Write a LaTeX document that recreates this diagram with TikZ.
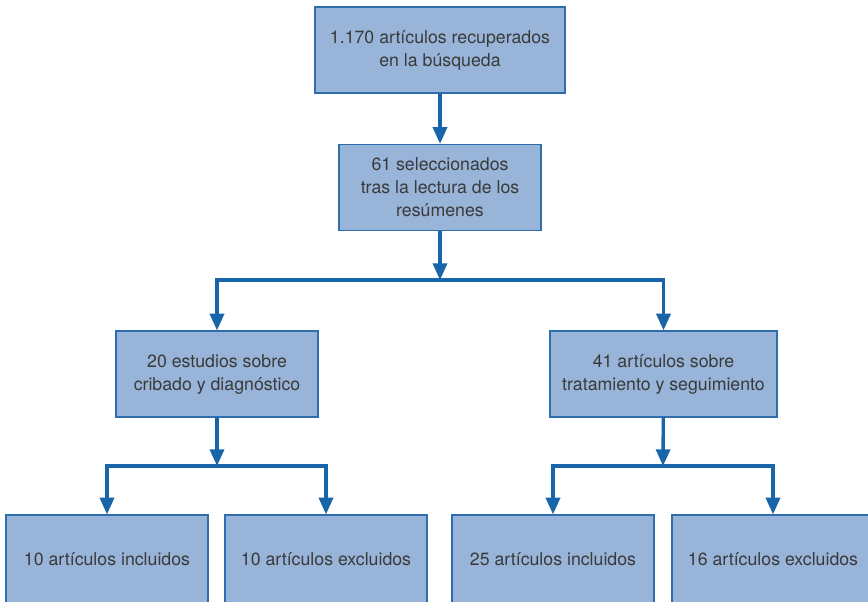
\documentclass[tikz,border=0pt]{standalone}
\usepackage{fontspec}
\setmainfont{TeX Gyre Heros}
\usetikzlibrary{arrows.meta}
\definecolor{boxfill}{HTML}{98B4D9}
\definecolor{boxedge}{HTML}{2F6DAE}
\definecolor{flowblue}{HTML}{1866A9}
\definecolor{textgray}{HTML}{3A3A3A}

\begin{document}
\begin{tikzpicture}[x=0.75pt, y=-0.75pt, line join=miter,
    every node/.style={font=\fontsize{13.3}{17.25}\selectfont, text=textgray},
    box/.style={draw=boxedge, fill=boxfill, line width=0.9pt, align=center,
        minimum width=151.5pt, minimum height=64.5pt, inner sep=2pt},
    flow/.style={draw=flowblue, line width=2.5pt, -{Triangle[length=12.5pt, width=10.5pt]}}]
    \useasboundingbox (0,0) rectangle (868,601);

    \node[box, minimum width=187.5pt] (found) at (440,50) {1.170 artículos recuperados\\en la búsqueda};
    \node[box] (sel) at (440,187.5) {61 seleccionados\\tras la lectura de los\\resúmenes};

    \node[box] (cri) at (217,374) {20 estudios sobre\\cribado y diagnóstico};
    \node[box, minimum width=170.25pt] (tra) at (663.5,374) {41 artículos sobre\\tratamiento y seguimiento};

    \node[box, minimum height=66pt] (incA) at (107,559) {10 artículos incluidos};
    \node[box, minimum height=66pt] (excA) at (326,559) {10 artículos excluidos};
    \node[box, minimum height=66pt] (incB) at (553,559) {25 artículos incluidos};
    \node[box, minimum height=66pt] (excB) at (773,559) {16 artículos excluidos};

    \coordinate (split) at (440,280);
    \coordinate (splitcri) at (217,466);
    \coordinate (splittra) at (663,466);

    \draw[flow] (found) -- (sel);
    \draw[flow] (sel) -- (split);
    \draw[flow] (split) -| (cri);
    \draw[flow] (split) -| (tra);

    \draw[flow] (cri) -- (splitcri);
    \draw[flow] (splitcri) -| (incA);
    \draw[flow] (splitcri) -| (excA);

    \draw[flow] (tra) -- (splittra);
    \draw[flow] (splittra) -| (incB);
    \draw[flow] (splittra) -| (excB);
\end{tikzpicture}
\end{document}
